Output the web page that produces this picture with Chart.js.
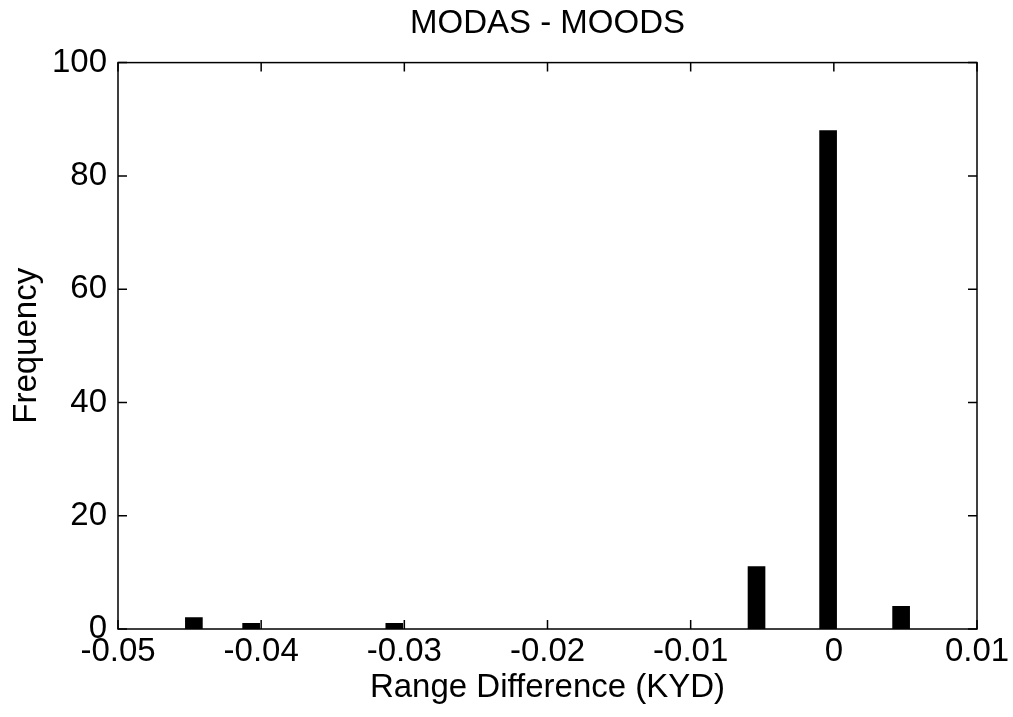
<!DOCTYPE html>
<html><head><meta charset="utf-8">
<script src="https://cdn.jsdelivr.net/npm/chart.js@4/dist/chart.umd.min.js"></script>
<style>html,body{margin:0;padding:0;background:#fff}#wrap{width:1013px;height:717px}</style>
</head><body><div id="wrap"><canvas id="c" width="1013" height="717"></canvas></div>
<script>
const binCenters = [-0.0447, -0.0407, -0.0307, -0.0054, -0.0004, 0.0047];
const frequencies = [2, 1, 1, 11, 88, 4];
const xTickValues = [-0.05, -0.04, -0.03, -0.02, -0.01, 0, 0.01];
const xTickLabels = ['-0.05', '-0.04', '-0.03', '-0.02', '-0.01', '0', '0.01'];
const yTickValues = [0, 20, 40, 60, 80, 100];
const yTickLabels = ['0', '20', '40', '60', '80', '100'];

const FONT = '"Liberation Sans", Arial, Helvetica, sans-serif';
const FS = 33;

const boxPlugin = {
  id: 'box',
  afterDatasetsDraw(chart) {
    const {ctx, chartArea: {left, right, top, bottom}, scales: {x, y}} = chart;
    ctx.save();
    ctx.strokeStyle = '#000';
    ctx.lineWidth = 1.5;
    ctx.strokeRect(left, top, right - left, bottom - top);
    const L = 9;
    ctx.beginPath();
    x.ticks.forEach(t => {
      const px = x.getPixelForValue(t.value);
      ctx.moveTo(px, bottom); ctx.lineTo(px, bottom - L);
      ctx.moveTo(px, top); ctx.lineTo(px, top + L);
    });
    y.ticks.forEach(t => {
      const py = y.getPixelForValue(t.value);
      ctx.moveTo(left, py); ctx.lineTo(left + L, py);
      ctx.moveTo(right, py); ctx.lineTo(right - L, py);
    });
    ctx.stroke();
    ctx.restore();
  }
};

new Chart(document.getElementById('c'), {
  type: 'bar',
  data: {
    datasets: [{
      data: binCenters.map((c, i) => ({x: c, y: frequencies[i]})),
      backgroundColor: '#000',
      borderColor: '#000',
      borderWidth: 0,
      barThickness: 17
    }]
  },
  options: {
    responsive: false,
    animation: false,
    devicePixelRatio: 1,
    layout: {padding: {left: 0, right: 36, top: 0, bottom: 0}},
    plugins: {
      legend: {display: false},
      tooltip: {enabled: false},
      title: {
        display: true,
        fullSize: false,
        text: 'MODAS - MOODS',
        color: '#000',
        font: {family: FONT, size: FS, weight: 'normal', lineHeight: 1.2},
        padding: {top: 4, bottom: 19}
      }
    },
    scales: {
      x: {
        type: 'linear',
        min: -0.05, max: 0.01,
        offset: false,
        grid: {display: false, offset: false, drawTicks: false},
        border: {display: false},
        afterBuildTicks: s => { s.ticks = xTickValues.map(v => ({value: v})); },
        afterFit: s => { s.height = 88; },
        ticks: {
          color: '#000', padding: 3, maxRotation: 0, autoSkip: false,
          font: {family: FONT, size: FS, lineHeight: 1.2},
          callback: (v, i) => xTickLabels[i]
        },
        title: {
          display: true, text: 'Range Difference (KYD)', color: '#000',
          font: {family: FONT, size: FS, lineHeight: 1.2},
          padding: {top: 0, bottom: 9}
        }
      },
      y: {
        min: 0, max: 100,
        grid: {display: false, drawTicks: false},
        border: {display: false},
        afterBuildTicks: s => { s.ticks = yTickValues.map(v => ({value: v})); },
        afterFit: s => { s.width = 118; },
        ticks: {
          color: '#000', padding: 11, autoSkip: false,
          font: {family: FONT, size: FS, lineHeight: 1.2},
          callback: (v, i) => yTickLabels[i]
        },
        title: {
          display: true, text: 'Frequency', color: '#000',
          font: {family: FONT, size: FS, lineHeight: 1.2},
          padding: {top: 7, bottom: 0}
        }
      }
    }
  },
  plugins: [boxPlugin]
});
</script></body></html>
